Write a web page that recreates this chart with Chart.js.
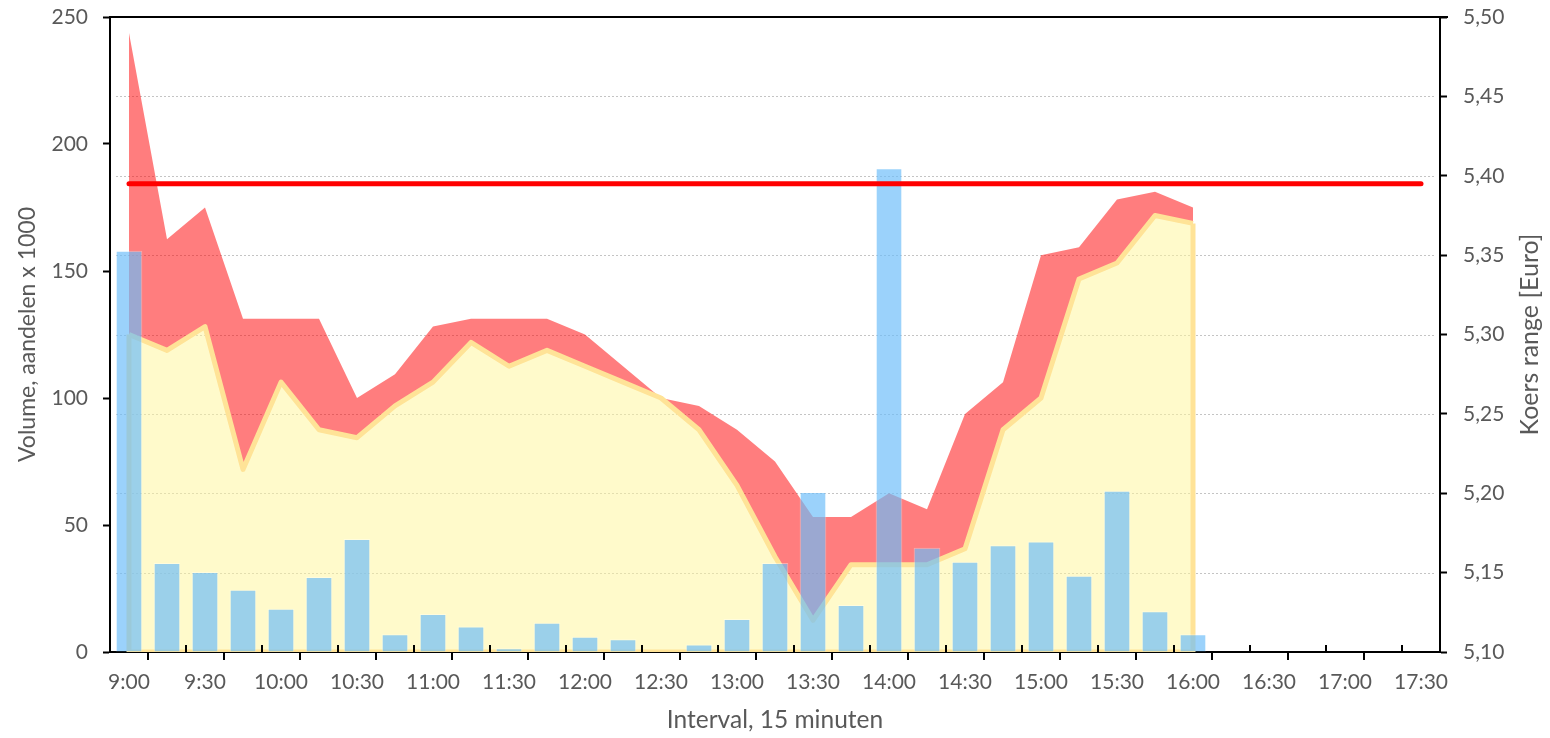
<!DOCTYPE html>
<html>
<head>
<meta charset="utf-8">
<title>Volume en koers range</title>
<script src="https://cdn.jsdelivr.net/npm/chart.js@4.4.1/dist/chart.umd.min.js"></script>
<style>
  html, body { margin: 0; padding: 0; background: #fff; }
  #wrap { width: 1550px; height: 738px; }
</style>
</head>
<body>
<div id="wrap"><canvas id="koers-chart"></canvas></div>
<script>
// kwartier-intervallen, handelsdag 9:00 - 17:30
const times = ["9:00", "9:15", "9:30", "9:45", "10:00", "10:15", "10:30", "10:45",
               "11:00", "11:15", "11:30", "11:45", "12:00", "12:15", "12:30", "12:45",
               "13:00", "13:15", "13:30", "13:45", "14:00", "14:15", "14:30", "14:45",
               "15:00", "15:15", "15:30", "15:45", "16:00", "16:15", "16:30", "16:45",
               "17:00", "17:15", "17:30"];

// volume, aandelen x 1000
const volumes = [158, 35, 31.5, 24.5, 17, 29.5, 44.5, 7, 15, 10, 1.5, 11.5, 6, 5, 0, 3,
                 13, 35, 63, 18.5, 190.5, 41, 35.5, 42, 43.5, 30, 63.5, 16, 7];

// koers hoog / laag per kwartier [Euro]
const highs = [5.49, 5.36, 5.38, 5.31, 5.31, 5.31, 5.26, 5.275, 5.305, 5.31, 5.31, 5.31, 5.30, 5.28, 5.26,
               5.255, 5.24, 5.22, 5.185, 5.185, 5.20, 5.19, 5.25, 5.27, 5.35, 5.355, 5.385, 5.39, 5.38];
const lows = [5.30, 5.29, 5.305, 5.215, 5.27, 5.24, 5.235, 5.255, 5.27, 5.295, 5.28, 5.29, 5.28, 5.27, 5.26,
              5.24, 5.205, 5.16, 5.12, 5.155, 5.155, 5.155, 5.165, 5.24, 5.26, 5.335, 5.345, 5.375, 5.37];

// slotkoers vorige dag
const referenceLevel = 5.395;

const yTicksLeft = { min: 0, max: 250, step: 50 };
const yTicksRight = { min: 5.10, max: 5.50, step: 0.05 };

const textColor = "#595959";
Chart.defaults.font.family = "Lato";
Chart.defaults.color = textColor;

// vaste maten voor de assen, zodat het plotvlak precies goed valt
function fixWidth(scale) {
  scale.width = 110;
  scale.paddingTop = 0;
  scale.paddingBottom = 0;
}

const chartExtras = {
  id: "chartExtras",
  beforeDatasetsDraw(chart) {
    const { ctx, chartArea: a, scales } = chart;
    const ticks = scales.y2.ticks;
    ctx.save();
    ctx.strokeStyle = "#c4c4c4";
    ctx.lineWidth = 1;
    ctx.setLineDash([2, 2]);
    ticks.forEach((t, i) => {
      if (i === 0 || i === ticks.length - 1) return;
      const y = Math.round(scales.y2.getPixelForValue(t.value)) + 0.5;
      ctx.beginPath();
      ctx.moveTo(a.left + 6, y);
      ctx.lineTo(a.right - 5, y);
      ctx.stroke();
    });
    ctx.restore();
  },
  afterDatasetDraw(chart, args) {
    // rand rondom het gele vlak (zoals Excel het tekent)
    if (args.index !== 1) return;
    const pts = args.meta.data;
    const first = pts[0], last = pts[pts.length - 1];
    const bottom = chart.scales.y2.bottom;
    const { ctx, chartArea: a } = chart;
    ctx.save();
    ctx.beginPath();
    ctx.rect(a.left, a.top, a.right - a.left, a.bottom - a.top);
    ctx.clip();
    ctx.strokeStyle = "#FFE397";
    ctx.lineWidth = 5;
    ctx.lineJoin = "round";
    ctx.beginPath();
    ctx.moveTo(first.x, first.y);
    ctx.lineTo(first.x, bottom);
    ctx.lineTo(last.x, bottom);
    ctx.lineTo(last.x, last.y);
    ctx.stroke();
    ctx.restore();
  },
  afterDraw(chart) {
    const { ctx, chartArea: a, scales } = chart;
    ctx.save();
    // bovenrand
    ctx.strokeStyle = "#000";
    ctx.lineWidth = 2;
    ctx.beginPath();
    ctx.moveTo(a.left - 1, a.top);
    ctx.lineTo(a.right + 8, a.top);
    ctx.stroke();

    // streepjes op de x-as: naar buiten en naar binnen om en om
    const x = scales.x;
    const half = (x.getPixelForValue(1) - x.getPixelForValue(0)) / 2;
    for (let i = 1; i < times.length; i++) {
      const px = Math.round(x.getPixelForValue(i) - half);
      ctx.beginPath();
      ctx.moveTo(px, a.bottom);
      ctx.lineTo(px, i % 2 === 1 ? a.bottom + 8 : a.bottom - 7);
      ctx.stroke();
    }

    // titel rechter as, van onder naar boven
    ctx.fillStyle = textColor;
    ctx.font = "25px Lato";
    ctx.textAlign = "center";
    ctx.textBaseline = "middle";
    ctx.translate(1530, (a.top + a.bottom) / 2);
    ctx.rotate(-Math.PI / 2);
    ctx.fillText("Koers range [Euro]", 0, 0);
    ctx.restore();
  }
};

const ctx = document.getElementById("koers-chart").getContext("2d");

const koersChart = new Chart(ctx, {
  type: "bar",
  data: {
    labels: times,
    datasets: [
      {
        type: "line",
        label: "Hoog",
        data: highs,
        yAxisID: "y2",
        borderWidth: 0,
        pointRadius: 0,
        tension: 0,
        backgroundColor: "rgba(255, 0, 2, 0.51)",
        fill: "+1",
        order: 3
      },
      {
        type: "line",
        label: "Laag",
        data: lows,
        yAxisID: "y2",
        borderColor: "#FFE397",
        borderWidth: 5,
        borderJoinStyle: "round",
        pointRadius: 0,
        tension: 0,
        backgroundColor: "rgba(255, 245, 155, 0.52)",
        fill: "start",
        order: 2
      },
      {
        type: "bar",
        label: "Volume",
        data: volumes,
        yAxisID: "y",
        backgroundColor: "rgba(108, 189, 249, 0.68)",
        borderColor: "rgba(255, 255, 255, 0.35)",
        borderWidth: 1,
        barPercentage: 0.7,
        categoryPercentage: 1,
        order: 1
      },
      {
        type: "line",
        label: "Slotkoers",
        data: [{ x: times[0], y: referenceLevel }, { x: times[times.length - 1], y: referenceLevel }],
        yAxisID: "y2",
        borderColor: "#FF0000",
        borderWidth: 5,
        borderCapStyle: "round",
        pointRadius: 0,
        fill: false,
        order: 0
      }
    ]
  },
  options: {
    responsive: true,
    maintainAspectRatio: false,
    animation: false,
    layout: { padding: { top: 17, left: 0, right: 0, bottom: 0 } },
    plugins: {
      legend: { display: false },
      tooltip: { enabled: false }
    },
    scales: {
      x: {
        type: "category",
        offset: true,
        grid: { display: false },
        border: { display: true, color: "#000", width: 2 },
        ticks: {
          autoSkip: false,
          maxRotation: 0,
          padding: 10,
          font: { size: 21 },
          color: textColor,
          callback: function (value, index) {
            return index % 2 === 0 ? this.getLabelForValue(value) : "";
          }
        },
        title: {
          display: true,
          text: "Interval, 15 minuten",
          font: { size: 24.5 },
          color: textColor,
          padding: { top: 0, bottom: 3 }
        },
        afterFit: (scale) => { scale.height = 86; }
      },
      y: {
        position: "left",
        min: yTicksLeft.min,
        max: yTicksLeft.max,
        ticks: { stepSize: yTicksLeft.step, padding: 15, font: { size: 21 }, color: textColor },
        grid: { drawOnChartArea: false, drawTicks: true, tickLength: 7, tickColor: "#000", tickWidth: 2 },
        border: { display: true, color: "#000", width: 2 },
        title: {
          display: true,
          text: "Volume, aandelen x 1000",
          font: { size: 23 },
          color: textColor,
          padding: { top: 14, bottom: 0 }
        },
        afterFit: fixWidth
      },
      y2: {
        position: "right",
        min: yTicksRight.min,
        max: yTicksRight.max,
        ticks: {
          stepSize: yTicksRight.step,
          padding: 16,
          font: { size: 21 },
          color: textColor,
          callback: (v) => v.toFixed(2).replace(".", ",")
        },
        grid: { drawOnChartArea: false, drawTicks: true, tickLength: 7, tickColor: "#000", tickWidth: 2 },
        border: { display: true, color: "#000", width: 2 },
        title: { display: false },
        afterFit: fixWidth
      }
    }
  },
  plugins: [chartExtras]
});
</script>
</body>
</html>
